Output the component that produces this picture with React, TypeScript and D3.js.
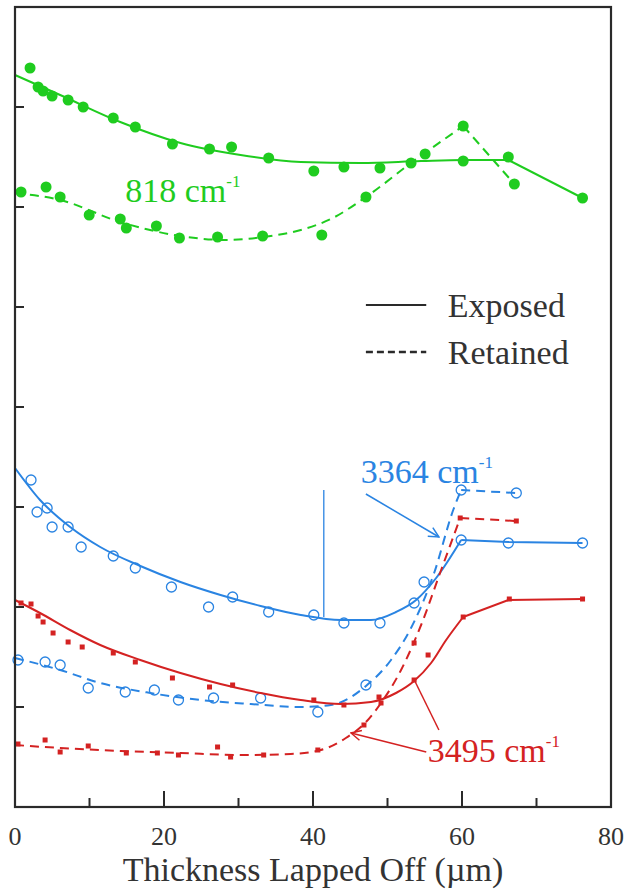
import React from "react";
import * as d3 from "d3";

type Pt = [number, number];

// x: thickness lapped off (um), y: arbitrary offset units (no labels)
const xTickLabels = [0, 20, 40, 60, 80];
const xMinorTicks = [10, 30, 50, 70];
const yTicks = [1, 2, 3, 4, 5, 6, 7];

// 818 cm-1
const green818Exposed: Pt[] = [
  [2.02, 7.39], [3.1, 7.2], [3.77, 7.16], [4.98, 7.11], [7.13, 7.07], [9.15, 7.0],
  [13.19, 6.89], [16.15, 6.8], [21.13, 6.63], [26.11, 6.58], [29.07, 6.6], [34.05, 6.49],
  [40.11, 6.36], [44.15, 6.4], [48.99, 6.39], [60.16, 6.46], [66.22, 6.5], [76.18, 6.09],
];
const green818ExposedFit: Pt[] = [
  [0, 7.32], [6.06, 7.12], [14.13, 6.85], [22.21, 6.64], [30.28, 6.52], [38.36, 6.45],
  [46.43, 6.44], [54.51, 6.46], [60.16, 6.47], [66.22, 6.47],
];
const green818ExposedTail: Pt[] = [[66.22, 6.47], [76.18, 6.09]];

const green818Retained: Pt[] = [
  [0.81, 6.15], [4.17, 6.2], [6.06, 6.1], [9.96, 5.92], [14.13, 5.88], [14.94, 5.79],
  [18.98, 5.81], [22.07, 5.69], [27.19, 5.7], [33.24, 5.71], [41.18, 5.72], [47.11, 6.1],
  [53.16, 6.44], [55.05, 6.53], [60.16, 6.81], [67.03, 6.23],
];
const green818RetainedFit: Pt[] = [
  [0, 6.14], [6.06, 6.07], [14.13, 5.85], [22.21, 5.71], [28.26, 5.67], [34.32, 5.71],
  [38.36, 5.77], [42.4, 5.88], [47.11, 6.1], [53.16, 6.44], [60.16, 6.81],
];
const green818RetainedTail: Pt[] = [[60.16, 6.81], [67.03, 6.23]];

// 3364 cm-1
const blue3364Exposed: Pt[] = [
  [2.15, 3.27], [2.96, 2.95], [4.31, 2.99], [4.98, 2.8], [7.13, 2.8], [8.88, 2.6],
  [13.19, 2.51], [16.15, 2.39], [21.0, 2.2], [25.98, 2.0], [29.21, 2.1], [34.05, 1.95],
  [40.11, 1.92], [44.15, 1.84], [48.99, 1.84], [53.57, 2.04], [54.91, 2.25], [59.89, 2.67],
  [66.22, 2.64], [76.18, 2.64],
];
const blue3364ExposedFit: Pt[] = [
  [0, 3.39], [3.36, 3.07], [7.4, 2.8], [11.44, 2.6], [16.82, 2.41], [22.21, 2.25],
  [27.59, 2.12], [32.97, 2.01], [38.36, 1.92], [43.74, 1.87], [47.78, 1.87], [51.14, 1.95],
  [53.84, 2.07], [56.53, 2.29], [59.89, 2.67],
];
const blue3364ExposedTail: Pt[] = [[59.89, 2.67], [66.22, 2.65], [76.18, 2.64]];

const blue3364Retained: Pt[] = [
  [0.4, 1.47], [4.04, 1.45], [6.06, 1.42], [9.83, 1.19], [14.8, 1.15], [18.71, 1.17],
  [21.94, 1.07], [26.65, 1.09], [32.97, 1.09], [40.65, 0.95], [47.11, 1.22], [59.89, 3.17],
  [67.29, 3.14],
];
const blue3364RetainedFit: Pt[] = [
  [0, 1.49], [6.06, 1.37], [11.44, 1.24], [18.17, 1.14], [24.9, 1.07], [31.63, 1.03],
  [38.36, 1.0], [42.4, 1.02], [47.11, 1.21], [50.47, 1.47], [53.16, 1.79], [56.26, 2.34],
  [58.82, 2.97], [59.89, 3.17],
];
const blue3364RetainedTail: Pt[] = [[59.89, 3.17], [67.29, 3.14]];

// 3495 cm-1
const red3495Exposed: Pt[] = [
  [0.81, 2.04], [2.15, 2.03], [3.1, 1.91], [3.77, 1.85], [5.11, 1.74], [7.13, 1.65],
  [9.02, 1.6], [13.19, 1.54], [16.15, 1.45], [21.13, 1.29], [26.11, 1.2], [29.21, 1.22],
  [40.11, 1.07], [44.15, 1.02], [48.86, 1.1], [53.57, 1.27], [55.45, 1.52], [60.16, 1.9],
  [66.35, 2.08], [76.18, 2.08],
];
const red3495ExposedFit: Pt[] = [
  [0, 2.07], [3.36, 1.94], [7.4, 1.77], [11.44, 1.62], [16.82, 1.47], [22.21, 1.34],
  [27.59, 1.23], [32.97, 1.14], [38.36, 1.07], [43.74, 1.03], [47.78, 1.05], [51.14, 1.14],
  [53.57, 1.26], [55.85, 1.44], [57.87, 1.67], [60.16, 1.9],
];
const red3495ExposedTail: Pt[] = [[60.16, 1.9], [66.22, 2.07], [76.18, 2.08]];

const red3495Retained: Pt[] = [
  [0.4, 0.63], [4.04, 0.67], [6.06, 0.55], [9.83, 0.61], [14.94, 0.54], [19.11, 0.54],
  [21.94, 0.52], [27.19, 0.6], [28.94, 0.5], [33.38, 0.52], [40.65, 0.57], [46.84, 0.82],
  [49.13, 1.04], [53.57, 1.64], [59.76, 2.89], [67.29, 2.86],
];
const red3495RetainedFit: Pt[] = [
  [0, 0.62], [6.06, 0.59], [14.13, 0.56], [22.21, 0.54], [30.28, 0.52], [37.01, 0.53],
  [41.05, 0.57], [44.41, 0.69], [47.11, 0.85], [49.13, 1.04], [51.82, 1.37], [54.51, 1.82],
  [57.2, 2.37], [59.76, 2.89],
];
const red3495RetainedTail: Pt[] = [[59.76, 2.89], [67.29, 2.86]];

const GREEN = "#1fcc1f";
const BLUE = "#2a84e2";
const RED = "#d42222";
const INK = "#2a2a2a";
const FONT = "'Liberation Serif', 'Times New Roman', serif";

const series = [
  { color: GREEN, dashed: false, marker: "dot", pts: green818Exposed, fit: green818ExposedFit, tail: green818ExposedTail },
  { color: GREEN, dashed: true, marker: "dot", pts: green818Retained, fit: green818RetainedFit, tail: green818RetainedTail },
  { color: BLUE, dashed: false, marker: "ring", pts: blue3364Exposed, fit: blue3364ExposedFit, tail: blue3364ExposedTail },
  { color: BLUE, dashed: true, marker: "ring", pts: blue3364Retained, fit: blue3364RetainedFit, tail: blue3364RetainedTail },
  { color: RED, dashed: false, marker: "square", pts: red3495Exposed, fit: red3495ExposedFit, tail: red3495ExposedTail },
  { color: RED, dashed: true, marker: "square", pts: red3495Retained, fit: red3495RetainedFit, tail: red3495RetainedTail },
];

const App = () => {
  const width = 628;
  const height = 892;
  const left = 15, right = 611, top = 7, bottom = 807;

  const x = d3.scaleLinear().domain([0, 80]).range([left, right]);
  const y = d3.scaleLinear().domain([0, 8]).range([bottom, top]);

  const smooth = d3.line<Pt>().x((d) => x(d[0])).y((d) => y(d[1])).curve(d3.curveMonotoneX);
  const straight = d3.line<Pt>().x((d) => x(d[0])).y((d) => y(d[1]));

  const drawMarker = (d: Pt, kind: string, color: string, i: number) => {
    const cx = x(d[0]);
    const cy = y(d[1]);
    if (kind === "dot") return <circle key={i} cx={cx} cy={cy} r={5.5} fill={color} />;
    if (kind === "ring")
      return <circle key={i} cx={cx} cy={cy} r={5} fill="none" stroke={color} strokeWidth={1.3} />;
    return <rect key={i} x={cx - 2.5} y={cy - 2.5} width={5} height={5} fill={color} />;
  };

  const sup = (main: string, color: string, px: number, py: number) => (
    <text x={x(px)} y={y(py)} fill={color} fontSize={34} fontFamily={FONT}>
      {main}
      <tspan fontSize={17} dy={-15}>-1</tspan>
    </text>
  );

  return (
    <svg width={width} height={height} style={{ position: "absolute", left: 0, top: 0, background: "#fff" }}>
      <defs>
        {[["arrowBlue", BLUE], ["arrowRed", RED]].map(([id, c]) => (
          <marker key={id} id={id} viewBox="0 0 12 12" refX={11} refY={6} markerWidth={12} markerHeight={12}
            markerUnits="userSpaceOnUse" orient="auto">
            <path d="M1,1 L11,6 L1,11" fill="none" stroke={c} strokeWidth={1.5} />
          </marker>
        ))}
      </defs>

      {/* series */}
      {series.map((s, si) => (
        <g key={si}>
          <path d={smooth(s.fit) || ""} fill="none" stroke={s.color} strokeWidth={2}
            strokeDasharray={s.dashed ? "9,6" : undefined} />
          <path d={straight(s.tail) || ""} fill="none" stroke={s.color} strokeWidth={2}
            strokeDasharray={s.dashed ? "9,6" : undefined} />
          {s.pts.map((d, i) => drawMarker(d, s.marker, s.color, i))}
        </g>
      ))}

      {/* frame */}
      <rect x={left} y={top} width={right - left} height={bottom - top} fill="none" stroke={INK} strokeWidth={2.2} />

      {/* y ticks */}
      {yTicks.map((t) => (
        <line key={t} x1={left} x2={left + 9} y1={y(t)} y2={y(t)} stroke={INK} strokeWidth={2} />
      ))}
      {/* x ticks */}
      {xTickLabels.slice(1, -1).map((t) => (
        <line key={t} x1={x(t)} x2={x(t)} y1={bottom} y2={bottom - 16} stroke={INK} strokeWidth={2} />
      ))}
      {xMinorTicks.map((t) => (
        <line key={t} x1={x(t)} x2={x(t)} y1={bottom} y2={bottom - 9} stroke={INK} strokeWidth={2} />
      ))}
      {xTickLabels.map((t) => (
        <text key={t} x={x(t)} y={845} textAnchor="middle" fontSize={26} fontFamily={FONT} fill="#333">
          {t}
        </text>
      ))}
      <text x={313} y={881} textAnchor="middle" fontSize={34} fontFamily={FONT} fill="#333">
        Thickness Lapped Off (µm)
      </text>

      {/* legend */}
      <line x1={x(47.1)} x2={x(55.2)} y1={y(5.02)} y2={y(5.02)} stroke={INK} strokeWidth={2} />
      <line x1={x(47.1)} x2={x(55.2)} y1={y(4.55)} y2={y(4.55)} stroke={INK} strokeWidth={2.5} strokeDasharray="7,4" />
      <text x={x(58.1)} y={y(4.9)} fontSize={34} fontFamily={FONT} fill="#333">Exposed</text>
      <text x={x(58.1)} y={y(4.43)} fontSize={34} fontFamily={FONT} fill="#333">Retained</text>

      {/* annotations */}
      {sup("818 cm", GREEN, 14.8, 6.05)}
      {sup("3364 cm", BLUE, 46.4, 3.24)}
      {sup("3495 cm", RED, 55.4, 0.45)}

      <line x1={x(41.45)} x2={x(41.45)} y1={y(3.17)} y2={y(1.9)} stroke={BLUE} strokeWidth={1.3} />
      <line x1={x(47.1)} y1={y(3.13)} x2={x(56.9)} y2={y(2.7)} stroke={BLUE} strokeWidth={1.5} markerEnd="url(#arrowBlue)" />

      <line x1={x(56.9)} y1={y(0.77)} x2={x(53.6)} y2={y(1.27)} stroke={RED} strokeWidth={1.5} />
      <line x1={x(55.2)} y1={y(0.55)} x2={x(45.1)} y2={y(0.74)} stroke={RED} strokeWidth={1.5} markerEnd="url(#arrowRed)" />
    </svg>
  );
};

export default App;
